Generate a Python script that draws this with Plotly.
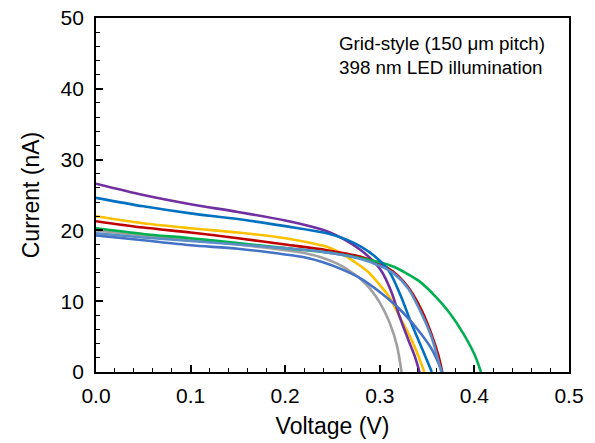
import plotly.graph_objects as go

# Voltage (V) / current (nA) pairs
purple_v = [0.0, 0.05, 0.10, 0.15, 0.20, 0.22, 0.244, 0.26, 0.279, 0.292, 0.302, 0.312, 0.321, 0.330, 0.337, 0.342]
purple_i = [26.6, 25.0, 23.7, 22.6, 21.4, 20.8, 19.9, 18.9, 17.3, 15.8, 14.2, 11.4, 7.8, 4.6, 2.2, 0.0]

blue_v = [0.0, 0.05, 0.10, 0.15, 0.20, 0.244, 0.265, 0.28, 0.295, 0.31, 0.322, 0.333, 0.345, 0.355]
blue_i = [24.6, 23.4, 22.4, 21.6, 20.6, 19.6, 18.7, 17.7, 16.3, 14.2, 10.8, 7.0, 3.2, 0.0]

yellow_v = [0.0, 0.05, 0.10, 0.15, 0.20, 0.225, 0.244, 0.26, 0.275, 0.288, 0.30, 0.31, 0.321, 0.332, 0.341, 0.347]
yellow_i = [22.0, 21.0, 20.3, 19.7, 18.9, 18.3, 17.7, 16.7, 15.4, 14.1, 12.3, 10.6, 7.8, 5.0, 2.2, 0.0]

red_v = [0.0, 0.05, 0.10, 0.15, 0.20, 0.244, 0.279, 0.30, 0.314, 0.325, 0.335, 0.345, 0.355, 0.362, 0.366]
red_i = [21.3, 20.4, 19.7, 18.9, 18.0, 17.2, 16.3, 15.3, 14.2, 12.8, 11.0, 8.5, 5.2, 2.3, 0.0]

green_v = [0.0, 0.05, 0.10, 0.15, 0.20, 0.244, 0.279, 0.30, 0.314, 0.33, 0.342, 0.36, 0.374, 0.388, 0.40, 0.407]
green_i = [20.3, 19.5, 18.9, 18.2, 17.5, 16.9, 16.1, 15.5, 14.9, 13.8, 12.8, 10.5, 8.3, 5.5, 2.5, 0.0]

gray_v = [0.0, 0.05, 0.10, 0.15, 0.20, 0.22, 0.24, 0.255, 0.268, 0.28, 0.29, 0.30, 0.31, 0.318, 0.323]
gray_i = [20.0, 19.3, 18.7, 18.0, 17.2, 16.8, 16.1, 15.3, 14.3, 13.1, 11.7, 9.8, 7.1, 3.8, 0.0]

steel_v = [0.0, 0.05, 0.10, 0.15, 0.20, 0.244, 0.279, 0.30, 0.314, 0.33, 0.345, 0.355, 0.365]
steel_i = [19.6, 19.0, 18.5, 18.0, 17.5, 16.9, 16.0, 15.0, 14.0, 11.8, 8.0, 4.8, 0.0]

slate_v = [0.0, 0.05, 0.10, 0.15, 0.20, 0.22, 0.24, 0.26, 0.28, 0.30, 0.32, 0.34, 0.355, 0.366]
slate_i = [19.3, 18.6, 17.9, 17.4, 16.6, 16.2, 15.5, 14.5, 13.2, 11.3, 9.0, 6.0, 3.2, 0.0]

series = [
    ("gray", gray_v, gray_i, "#A0A0A0"),
    ("yellow", yellow_v, yellow_i, "#FFC000"),
    ("purple", purple_v, purple_i, "#7030A0"),
    ("red", red_v, red_i, "#C00000"),
    ("green", green_v, green_i, "#00B050"),
    ("blue", blue_v, blue_i, "#0070C0"),
    ("slate", slate_v, slate_i, "#4472C4"),
    ("steel", steel_v, steel_i, "#5B8EC6"),
]

x_ticks = [0.0, 0.1, 0.2, 0.3, 0.4, 0.5]
y_ticks = [0, 10, 20, 30, 40, 50]

font = "Liberation Sans, Arial, sans-serif"

fig = go.Figure()
for name, v, i, c in series:
    fig.add_trace(go.Scatter(x=v, y=i, mode="lines", name=name,
                             line=dict(color=c, width=2.6, shape="spline", smoothing=0.8),
                             showlegend=False, hoverinfo="skip"))

axis_common = dict(showline=True, linecolor="black", linewidth=1.8, mirror=True,
                   ticks="inside", tickcolor="black", tickwidth=1.5, ticklen=7,
                   showgrid=False, zeroline=False,
                   tickfont=dict(family=font, size=21, color="black"))

fig.update_xaxes(range=[0, 0.5], tickvals=x_ticks, ticktext=[f"{t:.1f}" for t in x_ticks],
                 ticklabelstandoff=4,
                 minor=dict(dtick=0.02, ticks="inside", ticklen=4, tickcolor="black", tickwidth=1.2),
                 title=dict(text="Voltage (V)", font=dict(family=font, size=23, color="black"), standoff=12),
                 **axis_common)
fig.update_yaxes(range=[0, 50], tickvals=y_ticks, ticklabelstandoff=6,
                 minor=dict(dtick=2, ticks="inside", ticklen=4, tickcolor="black", tickwidth=1.2),
                 title=dict(text="Current (nA)", font=dict(family=font, size=23, color="black"), standoff=14),
                 **axis_common)

fig.add_annotation(xref="paper", yref="paper", x=0.51, y=0.962, xanchor="left", yanchor="top",
                   align="left", showarrow=False,
                   text="Grid-style (150 μm pitch)<br>398 nm LED illumination",
                   font=dict(family=font, size=18.8, color="black"))

fig.update_layout(width=595, height=443, margin=dict(l=96, r=26, t=18, b=71, autoexpand=False),
                  paper_bgcolor="white", plot_bgcolor="white")

# remove the default page margin so the figure sits at the window's top-left corner
fig.write_html("out.html", config={"displayModeBar": False},
               post_script="document.body.style.margin='0';document.body.style.overflow='hidden';")
